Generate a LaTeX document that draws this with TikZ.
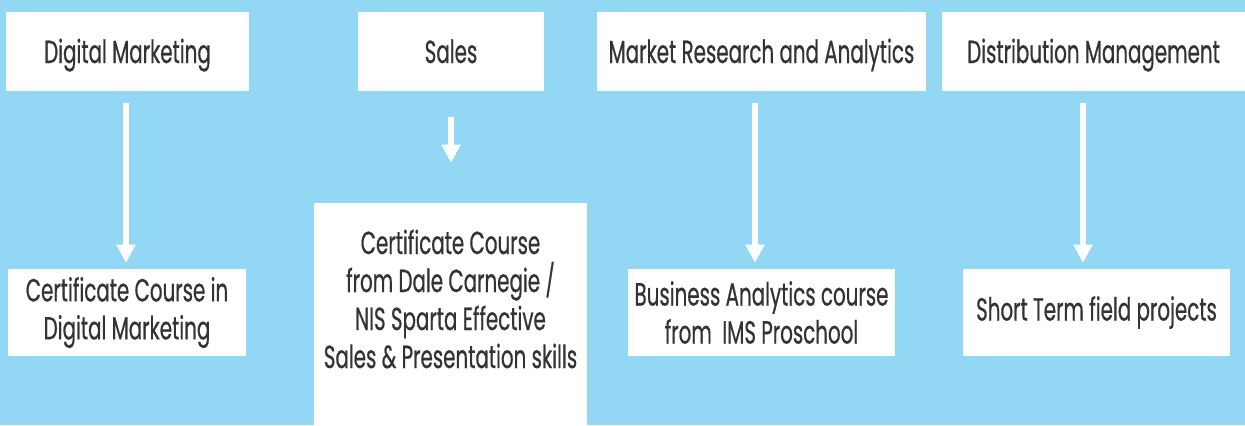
\documentclass[tikz,border=0pt]{standalone}
\usepackage{fontspec}
\setmainfont{Poppins}[FakeStretch=0.62,FakeBold=0.5]
\usetikzlibrary{arrows.meta}
\definecolor{skyback}{RGB}{146,216,245}
\definecolor{inkgrey}{RGB}{51,51,51}

\begin{document}
\begin{tikzpicture}[x=0.75pt,y=0.75pt,yscale=-1,xscale=1,
		wbox/.style={fill=white,inner sep=0pt,text=inkgrey,align=center,font=\fontsize{24}{28.5}\selectfont},
		headbox/.style={wbox,minimum height=59.25pt,text height=20pt,text depth=2.75pt},
		flow/.style={draw=white,line width=4.5pt,-{Triangle[length=13.5pt,width=13.5pt]}}]
	\useasboundingbox (0,0) rectangle (1245,425);
	\fill [skyback] (0,0) rectangle (1245,425);

	% top row
	\node (dm) [headbox,minimum width=182.25pt] at (127.5,51.5) {Digital Marketing};
	\node (sales) [headbox,minimum width=139.5pt] at (451,51.5) {Sales};
	\node (mra) [headbox,minimum width=246.75pt] at (761.5,51.5) {Market Research and Analytics};
	\node (distm) [headbox,minimum width=227.25pt] at (1093.5,51.5) {Distribution Management};

	% bottom row
	\node (cdm) [wbox,minimum width=178.5pt,minimum height=65.25pt] at (127,312.5) {Certificate Course in\\Digital Marketing};
	\node (csales) [wbox,minimum width=204.75pt,minimum height=166.5pt] at (450.5,314) {};
	\node (csalestxt) [wbox,fill=none] at (450.5,299) {Certificate Course\\from Dale Carnegie /\\NIS Sparta Effective\\Sales \& Presentation skills};
	\node (cmra) [wbox,minimum width=200.25pt,minimum height=65.25pt] at (761.5,312.5) {Business Analytics course\\from~ IMS Proschool};
	\node (cdistm) [wbox,minimum width=200.25pt,minimum height=65.25pt] at (1096.5,312.5) {Short Term field projects};

	% arrows
	\coordinate (xdm) at (126,0);
	\coordinate (xsales) at (451,0);
	\coordinate (xmra) at (755,0);
	\coordinate (xdistm) at (1083,0);
	\draw [flow,shorten <=9pt,shorten >=4.5pt] (dm.south -| xdm) -- (cdm.north -| xdm);
	\draw [flow,shorten <=19.5pt,shorten >=30pt] (sales.south -| xsales) -- (csales.north -| xsales);
	\draw [flow,shorten <=9pt,shorten >=4.5pt] (mra.south -| xmra) -- (cmra.north -| xmra);
	\draw [flow,shorten <=9pt,shorten >=4.5pt] (distm.south -| xdistm) -- (cdistm.north -| xdistm);
\end{tikzpicture}
\end{document}
